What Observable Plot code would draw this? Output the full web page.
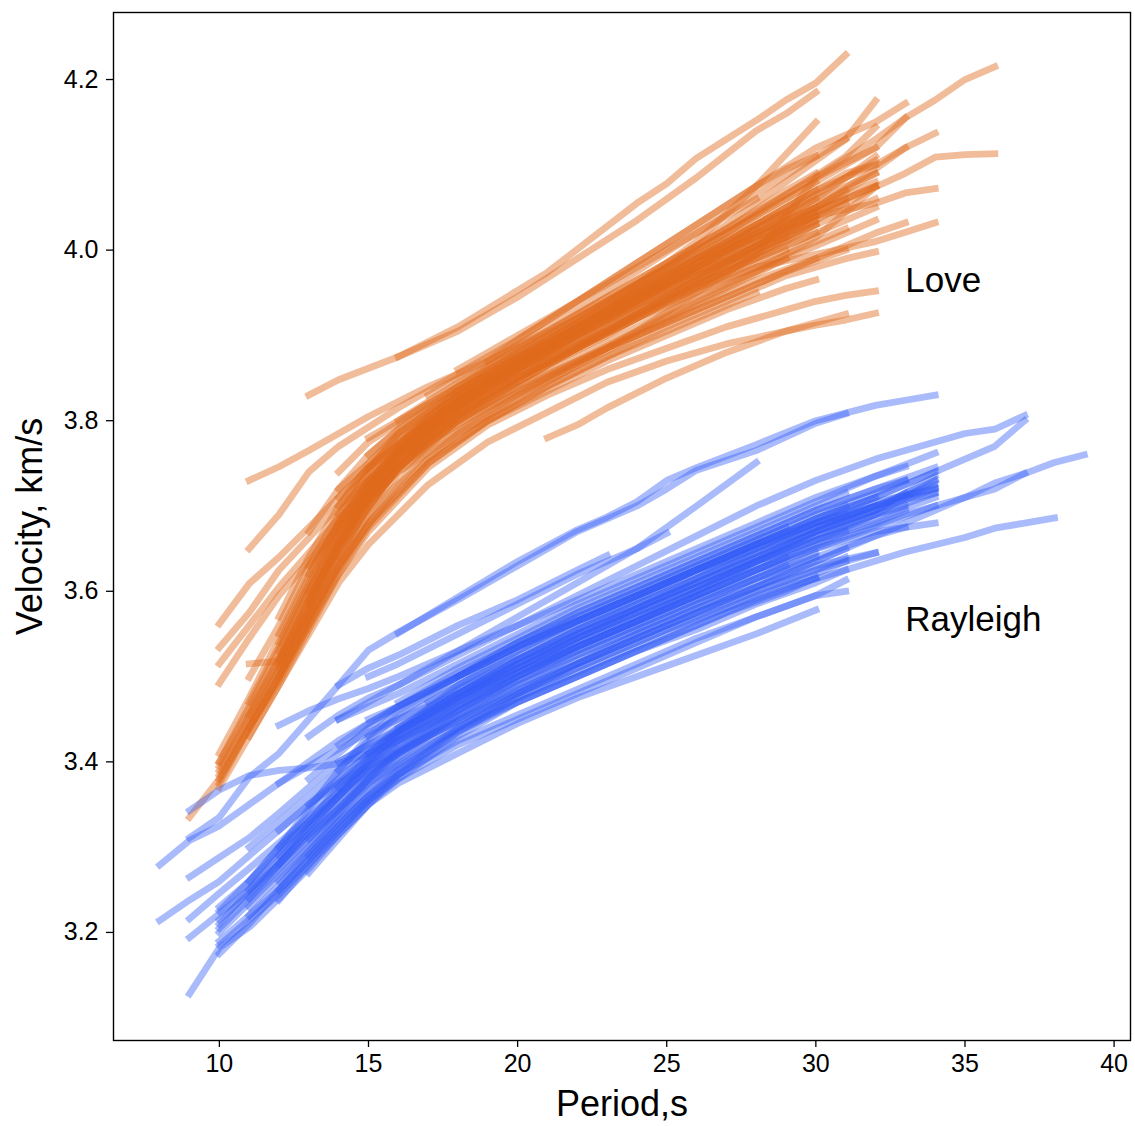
<!DOCTYPE html>
<html><head><meta charset="utf-8">
<script src="https://cdn.jsdelivr.net/npm/d3@7"></script>
<script src="https://cdn.jsdelivr.net/npm/@observablehq/plot@0.6"></script>
<style>body{margin:0;background:#fff}</style>
</head><body><div id="chart"></div>
<script>
// Tick labels
const periodTicks = [10, 15, 20, 25, 30, 35, 40];
const velocityTicks = [3.2, 3.4, 3.6, 3.8, 4.0, 4.2];

// Love-wave dispersion curves: [period (s), velocity (km/s)]
const loveCurves = [
  [[13,3.83],[14,3.848],[16,3.875],[18,3.91],[21,3.974],[24,4.055],[25,4.078],[26,4.108],[28,4.152],[29,4.176],[30,4.196],[31,4.229]],
  [[16,3.875],[18,3.905],[20,3.945],[22,3.99],[24,4.035],[26,4.085],[28,4.14],[29,4.16],[30,4.185]],
  [[11,3.73],[12,3.746],[13,3.765],[15,3.805],[17,3.84],[19,3.87],[21,3.905],[23,3.945],[25,3.985],[27,4.025],[29,4.07],[30,4.09]],
  [[11,3.65],[12,3.69],[13,3.74],[14,3.77],[16,3.815],[18,3.855],[20,3.895],[22,3.94],[24,3.985],[26,4.03],[28,4.075],[30,4.12],[32,4.15],[33,4.172]],
  [[10,3.562],[11,3.609],[12,3.64],[13,3.675],[15,3.745],[17,3.80],[19,3.845],[21,3.885],[23,3.93],[25,3.975],[27,4.02],[29,4.065],[31,4.11],[32,4.144]],
  [[10,3.534],[11,3.575],[12,3.625],[14,3.70],[16,3.76],[18,3.805],[20,3.845],[22,3.885],[24,3.925],[26,3.965],[28,4.005],[30,4.05],[32,4.095],[33,4.12],[34,4.137]],
  [[10,3.515],[11,3.56],[12,3.605],[14,3.685],[16,3.75],[18,3.795],[20,3.835],[22,3.87],[24,3.905],[26,3.94],[28,3.975],[30,4.015],[32,4.074],[33,4.09],[34,4.109],[35,4.112],[36,4.113]],
  [[10,3.492],[11,3.545],[12,3.595],[14,3.675],[16,3.74],[18,3.785],[20,3.825],[22,3.865],[24,3.905],[26,3.95],[28,3.995],[30,4.085],[32,4.13],[33,4.155],[34,4.176],[35,4.20],[36,4.215]],
  [[11,3.515],[12,3.518],[13,3.58],[14,3.65],[16,3.745],[18,3.80],[20,3.84],[22,3.87],[24,3.90],[26,3.93],[28,3.96],[30,3.99],[32,4.02],[33,4.032]],
  [[11,3.499],[12,3.56],[13,3.63],[15,3.72],[17,3.775],[19,3.815],[21,3.85],[23,3.885],[25,3.915],[27,3.945],[29,3.975],[31,4.00]],
  [[9,3.335],[10,3.38],[11,3.44],[12,3.50],[13,3.56],[14,3.62],[15,3.67],[17,3.745],[19,3.795],[21,3.83],[23,3.86],[25,3.885],[27,3.91],[29,3.93],[30,3.94],[31,3.947],[32,3.952]],
  [[10,3.37],[11,3.43],[12,3.49],[13,3.55],[14,3.61],[15,3.655],[17,3.725],[19,3.775],[21,3.81],[23,3.845],[25,3.87],[27,3.89],[29,3.905],[30,3.912],[31,3.918],[32,3.926]],
  [[21,3.78],[22,3.795],[23,3.815],[25,3.85],[27,3.88],[29,3.905],[31,3.925]],
  [[10,3.39],[11,3.45],[12,3.51],[13,3.575],[14,3.645],[15,3.705],[16,3.75],[18,3.815],[20,3.86],[22,3.895],[24,3.93],[26,3.965],[28,3.995],[30,4.03]],
  [[10,3.40],[11,3.465],[12,3.53],[13,3.60],[14,3.665],[15,3.72],[16,3.765],[18,3.83],[20,3.875],[22,3.915],[24,3.955],[26,3.99],[28,4.02],[30,4.05],[32,4.08]],
  [[10,3.375],[11,3.44],[12,3.50],[13,3.565],[14,3.63],[15,3.69],[16,3.74],[18,3.80],[20,3.84],[22,3.875],[24,3.91],[26,3.945],[28,3.975],[29,3.99]],
  [[11,3.47],[12,3.535],[13,3.605],[14,3.67],[15,3.725],[16,3.77],[18,3.835],[20,3.875],[22,3.905],[24,3.94],[26,3.975],[28,4.01],[30,4.045],[31,4.06]],
  [[12,3.52],[13,3.59],[14,3.66],[15,3.715],[17,3.79],[19,3.84],[21,3.88],[23,3.92],[25,3.955],[27,3.99],[29,4.02],[30,4.035]],
  [[12,3.55],[13,3.62],[14,3.685],[15,3.74],[17,3.805],[19,3.85],[21,3.89],[23,3.93],[25,3.97],[27,4.01],[29,4.05],[31,4.09],[32,4.10]],
  [[13,3.60],[14,3.67],[15,3.725],[16,3.765],[18,3.825],[20,3.87],[22,3.91],[24,3.95],[26,3.985],[28,4.015],[30,4.045],[32,4.075]],
  [[13,3.63],[14,3.69],[15,3.74],[17,3.80],[19,3.845],[21,3.885],[23,3.92],[25,3.96],[27,4.00],[29,4.04],[30,4.06]],
  [[14,3.72],[15,3.76],[16,3.79],[18,3.84],[20,3.885],[22,3.925],[24,3.965],[26,4.005],[28,4.045],[30,4.085],[32,4.12],[33,4.155]],
  [[14,3.64],[15,3.70],[16,3.745],[18,3.80],[20,3.845],[22,3.885],[24,3.92],[26,3.955],[28,3.98],[30,3.995],[32,4.01],[33,4.021],[34,4.032]],
  [[15,3.73],[16,3.77],[18,3.825],[20,3.865],[22,3.905],[24,3.945],[26,3.98],[28,4.01],[30,4.04],[32,4.055],[33,4.067],[34,4.072]],
  [[15,3.78],[16,3.80],[18,3.845],[20,3.885],[22,3.92],[24,3.96],[26,4.00],[28,4.04],[30,4.08],[32,4.12]],
  [[12,3.57],[13,3.64],[14,3.70],[16,3.785],[18,3.835],[20,3.875],[22,3.915],[24,3.96],[26,4.01],[28,4.075],[30,4.15]],
  [[14,3.74],[15,3.775],[17,3.82],[19,3.86],[21,3.895],[23,3.935],[25,3.98],[27,4.03],[29,4.08],[31,4.13],[32,4.175]],
  [[13,3.67],[14,3.72],[16,3.78],[18,3.83],[20,3.87],[22,3.91],[24,3.95],[26,3.99],[28,4.03],[30,4.07],[32,4.10],[33,4.12]],
  [[15,3.70],[16,3.745],[18,3.805],[20,3.85],[22,3.885],[24,3.925],[26,3.96],[28,3.995],[30,4.035],[32,4.074]],
  [[12,3.53],[13,3.60],[14,3.665],[16,3.76],[18,3.815],[20,3.86],[22,3.90],[24,3.94],[26,3.98],[28,4.02],[30,4.06],[32,4.11]],
  [[11,3.44],[12,3.50],[13,3.565],[14,3.63],[16,3.725],[18,3.785],[20,3.83],[22,3.865],[24,3.90],[26,3.935],[28,3.965],[30,3.99]],
  [[10,3.38],[11,3.44],[12,3.495],[13,3.56],[14,3.625],[15,3.68],[17,3.755],[19,3.80],[21,3.84],[23,3.875],[25,3.905],[27,3.935],[28,3.95]],
  [[10,3.41],[11,3.475],[12,3.545],[13,3.615],[14,3.68],[15,3.73],[17,3.795],[19,3.84],[21,3.875],[23,3.91],[25,3.945],[27,3.98],[29,4.02],[30,4.04]],
  [[16,3.80],[17,3.82],[19,3.86],[21,3.90],[23,3.94],[25,3.98],[27,4.02],[29,4.06],[30,4.08]],
  [[14,3.68],[15,3.73],[17,3.795],[19,3.845],[21,3.885],[23,3.925],[25,3.965],[27,4.005],[28,4.025]],
  [[12,3.50],[13,3.57],[14,3.635],[15,3.69],[17,3.765],[19,3.81],[21,3.85],[23,3.885],[25,3.92],[27,3.955],[29,3.99],[31,4.02],[32,4.035]],
  [[13,3.59],[14,3.655],[15,3.71],[17,3.78],[19,3.825],[21,3.865],[23,3.90],[25,3.94],[27,3.975],[29,4.01],[30,4.03]],
  [[15,3.76],[16,3.79],[18,3.835],[20,3.875],[22,3.91],[24,3.945],[26,3.975],[28,4.00],[29,4.015]],
  [[11,3.43],[12,3.49],[13,3.555],[14,3.62],[15,3.675],[17,3.75],[19,3.80],[21,3.835],[23,3.87],[25,3.90],[27,3.93],[29,3.955],[30,3.965]],
  [[17,3.83],[18,3.85],[20,3.89],[22,3.93],[24,3.975],[26,4.02],[28,4.065],[30,4.11],[31,4.13]],
  [[10,3.40],[11,3.46],[12,3.52],[13,3.59],[14,3.655],[16,3.76],[18,3.82],[20,3.865],[22,3.905],[24,3.945],[26,3.98],[28,4.015],[30,4.05],[32,4.09]],
  [[14,3.69],[15,3.73],[16,3.765],[18,3.815],[20,3.86],[22,3.90],[24,3.935],[26,3.97],[28,4.005],[30,4.04],[31,4.055]],
  [[12,3.51],[13,3.57],[14,3.63],[15,3.68],[17,3.75],[19,3.80],[21,3.84],[23,3.875],[25,3.91],[27,3.94],[29,3.97],[31,3.99],[32,3.998]],
  [[18,3.86],[19,3.88],[21,3.92],[23,3.96],[25,4.00],[27,4.04],[28,4.06]],
  [[19,3.87],[20,3.895],[22,3.94],[24,3.985],[26,4.03],[28,4.075],[29,4.095],[30,4.11]],
  [[14,3.70],[15,3.75],[16,3.785],[18,3.835],[20,3.88],[22,3.92],[24,3.96],[26,3.995],[28,4.03],[29,4.045]],
  [[13,3.62],[14,3.68],[15,3.725],[16,3.76],[18,3.81],[20,3.85],[22,3.885],[24,3.92],[26,3.95],[28,3.98],[30,4.01],[31,4.025]],
  [[12,3.54],[13,3.61],[14,3.675],[15,3.725],[17,3.785],[19,3.83],[21,3.87],[23,3.905],[25,3.945],[27,3.985],[29,4.025],[31,4.06],[32,4.075]],
  [[10,3.385],[11,3.445],[12,3.505],[13,3.57],[14,3.64],[15,3.70],[16,3.745],[18,3.81],[20,3.855],[22,3.89],[24,3.925],[26,3.96],[28,3.99],[30,4.02],[32,4.05]],
  [[13,3.585],[14,3.655],[15,3.715],[16,3.76],[18,3.82],[20,3.865],[22,3.905],[24,3.945],[26,3.98],[28,4.015],[30,4.05],[31,4.07]],
  [[14,3.66],[15,3.715],[16,3.76],[18,3.82],[20,3.865],[22,3.90],[24,3.935],[26,3.97],[28,4.00],[30,4.03],[32,4.06]],
  [[11,3.455],[12,3.515],[13,3.58],[14,3.65],[15,3.71],[16,3.755],[18,3.81],[20,3.85],[22,3.885],[24,3.92],[26,3.955],[28,3.985],[29,4.00]],
  [[15,3.745],[16,3.78],[18,3.83],[20,3.87],[22,3.91],[24,3.95],[26,3.99],[28,4.025],[30,4.06],[32,4.09]],
  [[12,3.515],[13,3.585],[14,3.655],[15,3.71],[16,3.755],[18,3.82],[20,3.86],[22,3.895],[24,3.935],[26,3.97],[28,4.005],[30,4.04]],
  [[16,3.77],[17,3.795],[19,3.84],[21,3.88],[23,3.92],[25,3.96],[27,4.00],[29,4.035],[30,4.05]],
  [[10,3.395],[11,3.455],[12,3.52],[13,3.585],[14,3.65],[15,3.705],[17,3.78],[19,3.83],[21,3.87],[23,3.905],[25,3.94],[27,3.975],[29,4.005],[30,4.02]],
  [[14,3.71],[15,3.745],[17,3.80],[19,3.845],[21,3.885],[23,3.925],[25,3.965],[27,4.005],[29,4.045],[31,4.085],[32,4.105]],
  [[18,3.83],[19,3.85],[21,3.89],[23,3.93],[25,3.97],[27,4.01],[29,4.05],[30,4.07]]
];

// Rayleigh-wave dispersion curves: [period (s), velocity (km/s)]
const rayleighCurves = [
  [[9,3.311],[10,3.335],[11,3.382],[12,3.41],[13,3.45],[14,3.49],[15,3.531],[16,3.552],[18,3.59],[20,3.63],[22,3.67],[24,3.70],[25,3.72],[26,3.742],[28,3.765],[30,3.797],[31,3.808]],
  [[16,3.551],[18,3.593],[20,3.635],[22,3.672],[23,3.687],[24,3.705],[25,3.73],[26,3.745],[28,3.772],[30,3.80],[32,3.818],[33,3.824],[34,3.83]],
  [[9,3.343],[10,3.367],[11,3.384],[12,3.39],[13,3.393],[14,3.398],[15,3.41],[16,3.425],[18,3.46],[20,3.495],[22,3.525],[24,3.555],[26,3.585],[28,3.615],[30,3.645]],
  [[12,3.443],[13,3.46],[14,3.474],[15,3.486],[16,3.50],[18,3.53],[20,3.56],[22,3.59],[24,3.62],[26,3.65],[28,3.68],[30,3.71],[32,3.735],[34,3.762]],
  [[8,3.279],[9,3.308],[10,3.325],[11,3.35],[12,3.375],[13,3.40],[14,3.425],[16,3.465],[18,3.50],[20,3.535],[22,3.565],[24,3.595],[26,3.625],[28,3.655],[30,3.68],[32,3.70],[34,3.715]],
  [[9,3.265],[10,3.288],[11,3.311],[12,3.34],[13,3.37],[14,3.40],[15,3.42],[17,3.455],[19,3.49],[21,3.52],[23,3.55],[25,3.58],[27,3.61],[29,3.64],[31,3.665],[33,3.69],[35,3.71],[36,3.727],[37,3.738],[38,3.751],[39,3.76]],
  [[8,3.214],[9,3.238],[10,3.26],[11,3.29],[12,3.32],[13,3.35],[14,3.375],[15,3.395],[17,3.43],[19,3.465],[21,3.495],[23,3.525],[25,3.555],[27,3.58],[29,3.605],[31,3.625],[33,3.646],[35,3.663],[36,3.674],[37,3.68],[38,3.686]],
  [[9,3.216],[10,3.246],[11,3.275],[12,3.305],[13,3.335],[14,3.365],[15,3.39],[17,3.43],[19,3.465],[21,3.50],[23,3.53],[25,3.56],[27,3.59],[29,3.62],[31,3.65],[33,3.68],[35,3.71],[36,3.72],[37,3.738]],
  [[9,3.194],[10,3.222],[11,3.25],[12,3.28],[13,3.315],[14,3.345],[15,3.375],[17,3.42],[19,3.455],[21,3.485],[23,3.515],[25,3.545],[27,3.575],[29,3.60],[30,3.616]],
  [[9,3.128],[10,3.182],[11,3.206],[12,3.24],[13,3.275],[14,3.315],[15,3.35],[16,3.375],[18,3.41],[20,3.445],[22,3.475],[24,3.50],[26,3.525],[28,3.55],[30,3.578]],
  [[10,3.175],[11,3.21],[12,3.25],[13,3.29],[14,3.33],[15,3.36],[16,3.385],[18,3.425],[20,3.455],[22,3.485],[24,3.515],[26,3.545],[28,3.57],[30,3.595],[31,3.60]],
  [[12,3.238],[13,3.28],[14,3.32],[15,3.355],[16,3.38],[18,3.42],[20,3.45],[22,3.48],[24,3.51],[26,3.54],[28,3.57],[30,3.595],[31,3.613]],
  [[12,3.375],[13,3.395],[14,3.415],[15,3.435],[16,3.45],[18,3.48],[20,3.515],[22,3.55],[24,3.58],[26,3.61],[28,3.64],[30,3.67],[32,3.695],[33,3.715]],
  [[14,3.45],[15,3.465],[16,3.48],[18,3.515],[20,3.55],[22,3.585],[24,3.615],[26,3.645],[28,3.675],[30,3.705],[32,3.735],[33,3.746]],
  [[13,3.43],[14,3.455],[15,3.475],[16,3.49],[18,3.525],[20,3.56],[22,3.595],[24,3.63],[26,3.665],[28,3.70],[30,3.73],[32,3.755],[34,3.775],[35,3.785],[36,3.79],[37,3.806]],
  [[11,3.30],[12,3.33],[13,3.36],[14,3.39],[15,3.415],[16,3.435],[18,3.475],[20,3.51],[22,3.545],[24,3.58],[26,3.615],[28,3.65],[30,3.68],[32,3.71],[34,3.74],[36,3.77],[37,3.80]],
  [[14,3.49],[15,3.51],[16,3.525],[18,3.56],[20,3.59],[22,3.625],[23,3.642]],
  [[15,3.50],[16,3.515],[18,3.55],[20,3.585],[22,3.62],[24,3.65],[25,3.668]],
  [[14,3.45],[15,3.47],[16,3.49],[18,3.53],[20,3.57],[22,3.61],[24,3.65],[26,3.70],[28,3.751]],
  [[10,3.20],[11,3.235],[12,3.27],[13,3.305],[14,3.34],[15,3.375],[16,3.405],[18,3.455],[20,3.495],[22,3.53],[24,3.56],[26,3.59],[28,3.62],[30,3.65],[32,3.675],[34,3.70]],
  [[10,3.21],[11,3.25],[12,3.285],[13,3.325],[14,3.36],[15,3.395],[16,3.425],[18,3.475],[20,3.515],[22,3.55],[24,3.58],[26,3.61],[28,3.64],[30,3.67],[32,3.695],[34,3.72]],
  [[10,3.19],[11,3.22],[12,3.25],[13,3.285],[14,3.32],[15,3.355],[16,3.385],[18,3.435],[20,3.475],[22,3.51],[24,3.54],[26,3.57],[28,3.60],[30,3.625],[32,3.645]],
  [[11,3.22],[12,3.255],[13,3.295],[14,3.335],[15,3.37],[16,3.40],[18,3.45],[20,3.49],[22,3.525],[24,3.555],[26,3.585],[28,3.615],[29,3.63]],
  [[12,3.30],[13,3.33],[14,3.36],[15,3.39],[16,3.42],[18,3.465],[20,3.505],[22,3.54],[24,3.57],[26,3.60],[28,3.635],[30,3.665],[32,3.69],[33,3.70]],
  [[13,3.27],[14,3.31],[15,3.35],[16,3.385],[18,3.44],[20,3.48],[22,3.515],[24,3.545],[26,3.575],[28,3.605],[30,3.635],[31,3.65]],
  [[14,3.40],[15,3.42],[16,3.44],[18,3.48],[20,3.52],[22,3.555],[24,3.585],[26,3.615],[28,3.645],[30,3.675],[32,3.70],[34,3.73]],
  [[10,3.23],[11,3.26],[12,3.295],[13,3.33],[14,3.365],[15,3.40],[16,3.43],[18,3.475],[20,3.51],[22,3.54],[24,3.57],[26,3.60],[28,3.63],[30,3.66],[32,3.69],[34,3.715]],
  [[12,3.28],[13,3.315],[14,3.35],[15,3.385],[16,3.415],[18,3.46],[20,3.50],[22,3.535],[24,3.565],[26,3.595],[28,3.625],[30,3.655],[31,3.67]],
  [[15,3.43],[16,3.45],[18,3.49],[20,3.525],[22,3.56],[24,3.59],[26,3.62],[28,3.65],[30,3.68],[32,3.705],[34,3.72]],
  [[11,3.24],[12,3.275],[13,3.31],[14,3.345],[15,3.38],[16,3.41],[18,3.455],[20,3.49],[22,3.52],[24,3.55],[26,3.58],[28,3.605],[30,3.63],[32,3.645]],
  [[13,3.35],[14,3.38],[15,3.41],[16,3.435],[18,3.475],[20,3.51],[22,3.545],[24,3.575],[26,3.605],[28,3.635],[30,3.665],[32,3.69],[34,3.73]],
  [[16,3.44],[17,3.46],[18,3.48],[20,3.515],[22,3.545],[24,3.575],[26,3.605],[28,3.635],[30,3.66],[32,3.68],[33,3.695]],
  [[12,3.26],[13,3.295],[14,3.33],[15,3.365],[16,3.395],[18,3.44],[20,3.475],[22,3.505],[24,3.535],[26,3.565],[28,3.595],[30,3.62],[31,3.635]],
  [[14,3.37],[15,3.40],[16,3.425],[18,3.465],[20,3.50],[22,3.535],[24,3.565],[26,3.595],[28,3.625],[30,3.65],[32,3.67],[34,3.68]],
  [[10,3.205],[11,3.24],[12,3.28],[13,3.32],[14,3.355],[15,3.385],[16,3.41],[18,3.45],[20,3.485],[22,3.515],[24,3.545],[26,3.575],[28,3.60],[30,3.625],[31,3.64]],
  [[15,3.45],[16,3.465],[18,3.50],[20,3.535],[22,3.57],[24,3.60],[26,3.63],[28,3.66],[30,3.69],[32,3.715],[33,3.73]],
  [[12,3.32],[13,3.35],[14,3.38],[15,3.41],[16,3.435],[18,3.48],[20,3.52],[22,3.555],[24,3.59],[26,3.625],[28,3.655],[30,3.685],[32,3.71],[34,3.74]],
  [[11,3.26],[12,3.30],[13,3.34],[14,3.375],[15,3.405],[16,3.43],[18,3.47],[20,3.505],[22,3.535],[24,3.565],[26,3.595],[28,3.625],[29,3.64]],
  [[17,3.47],[18,3.49],[20,3.53],[22,3.565],[24,3.595],[26,3.625],[28,3.655],[30,3.685],[31,3.70]],
  [[13,3.31],[14,3.345],[15,3.38],[16,3.41],[18,3.46],[20,3.50],[22,3.535],[24,3.565],[26,3.60],[28,3.635],[30,3.67],[32,3.70],[34,3.725]],
  [[10,3.215],[11,3.245],[12,3.28],[13,3.32],[14,3.36],[15,3.40],[16,3.435],[18,3.49],[20,3.53],[22,3.565],[24,3.595],[26,3.625],[28,3.655],[30,3.685],[32,3.71]],
  [[13,3.38],[14,3.41],[15,3.44],[16,3.465],[18,3.505],[20,3.54],[22,3.575],[24,3.605],[26,3.635],[28,3.665],[30,3.695],[32,3.72],[34,3.745]],
  [[11,3.23],[12,3.265],[13,3.30],[14,3.34],[15,3.38],[16,3.415],[18,3.465],[20,3.50],[22,3.53],[24,3.56],[26,3.59],[28,3.615],[30,3.64]],
  [[16,3.47],[17,3.49],[18,3.51],[20,3.545],[22,3.58],[24,3.61],[26,3.64],[28,3.67],[30,3.70],[31,3.715]],
  [[12,3.29],[13,3.325],[14,3.36],[15,3.395],[16,3.425],[18,3.47],[20,3.51],[22,3.545],[24,3.575],[26,3.605],[28,3.635],[30,3.66],[32,3.685],[34,3.71]],
  [[10,3.185],[11,3.215],[12,3.245],[13,3.28],[14,3.315],[15,3.35],[16,3.38],[18,3.43],[20,3.47],[22,3.50],[24,3.53],[26,3.56],[28,3.59],[30,3.615]],
  [[14,3.42],[15,3.445],[16,3.465],[18,3.50],[20,3.535],[22,3.565],[24,3.595],[26,3.625],[28,3.655],[30,3.68],[31,3.69]],
  [[13,3.29],[14,3.325],[15,3.36],[16,3.39],[18,3.44],[20,3.48],[22,3.515],[24,3.55],[26,3.58],[28,3.61],[30,3.64],[32,3.665],[33,3.675]],
  [[15,3.41],[16,3.44],[18,3.485],[20,3.52],[22,3.55],[24,3.58],[26,3.61],[28,3.64],[30,3.67],[32,3.695],[34,3.735]],
  [[11,3.25],[12,3.29],[13,3.33],[14,3.37],[15,3.405],[16,3.435],[18,3.48],[20,3.52],[22,3.555],[24,3.585],[26,3.615],[28,3.645],[30,3.675],[32,3.70],[34,3.722]],
  [[18,3.50],[19,3.52],[20,3.54],[22,3.575],[24,3.605],[26,3.635],[28,3.665],[30,3.695],[32,3.72],[33,3.73]],
  [[12,3.25],[13,3.285],[14,3.325],[15,3.36],[16,3.39],[18,3.435],[20,3.47],[22,3.50],[24,3.53],[26,3.555],[28,3.585],[30,3.61],[31,3.625]],
  [[14,3.39],[15,3.425],[16,3.455],[18,3.50],[20,3.54],[22,3.57],[24,3.60],[26,3.63],[28,3.66],[29,3.675]],
  [[10,3.225],[11,3.26],[12,3.30],[13,3.345],[14,3.39],[15,3.43],[16,3.46],[18,3.50],[20,3.535],[22,3.565],[24,3.595],[26,3.625],[28,3.65],[30,3.675],[32,3.70]]
];

// Curve-family labels placed in data coordinates
const familyNames = ["Love", "Rayleigh"];
const familyLabelPeriod = [33, 33];
const familyLabelVelocity = [3.951, 3.553];

const toRows = (curves) => curves.flatMap((c, i) => c.map(([p, v]) => ({p, v, id: i})));
const loveRows = toRows(loveCurves);
const rayRows = toRows(rayleighCurves);
const labelRows = familyNames.map((t, i) => ({t, p: familyLabelPeriod[i], v: familyLabelVelocity[i]}));

const font = "'Liberation Sans', Arial, Helvetica, sans-serif";

const chart = Plot.plot({
  width: 1135,
  height: 1126,
  marginLeft: 113,
  marginRight: 5,
  marginTop: 12,
  marginBottom: 86,
  style: {fontFamily: font, fontSize: "25px", background: "#fff", color: "#000"},
  x: {domain: [6.45, 40.55]},
  y: {domain: [3.0733, 4.2786]},
  marks: [
    Plot.line(loveRows, {x: "p", y: "v", z: "id", stroke: "#df6a1d", strokeOpacity: 0.45, strokeWidth: 6.8, strokeLinecap: "square", strokeLinejoin: "round"}),
    Plot.line(rayRows, {x: "p", y: "v", z: "id", stroke: "#355cf7", strokeOpacity: 0.42, strokeWidth: 6.8, strokeLinecap: "square", strokeLinejoin: "round"}),
    Plot.frame({stroke: "#000", strokeWidth: 1.4}),
    Plot.axisX(periodTicks, {tickSize: 7, tickPadding: 7, fontSize: 25, label: null, strokeWidth: 1.3}),
    Plot.axisY(velocityTicks, {tickSize: 7, tickPadding: 8, fontSize: 25, label: null, strokeWidth: 1.3, tickFormat: d3.format(".1f")}),
    Plot.text(["Period,s"], {frameAnchor: "bottom", dy: 75, fontSize: 36, lineAnchor: "bottom"}),
    Plot.text(["Velocity, km/s"], {frameAnchor: "left", dx: -72, rotate: -90, fontSize: 36, textAnchor: "middle", lineAnchor: "bottom"}),
    Plot.text(labelRows, {x: "p", y: "v", text: "t", textAnchor: "start", lineAnchor: "bottom", fontSize: 35})
  ]
});
document.getElementById("chart").appendChild(chart);
</script>
</body></html>
